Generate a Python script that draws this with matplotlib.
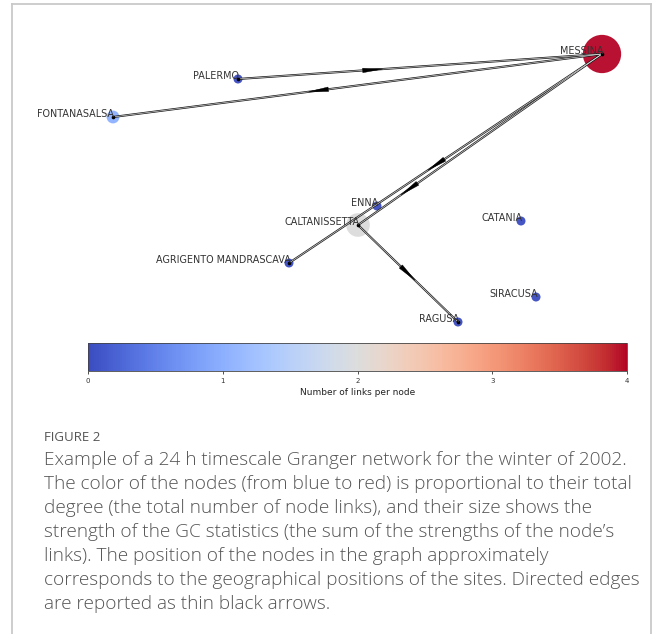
import numpy as np
import matplotlib
matplotlib.use("Agg")
import matplotlib.pyplot as plt
from matplotlib.patches import Polygon
from matplotlib.lines import Line2D
import matplotlib.colors as mcolors
import matplotlib.cm as cm

# ---------------- data ----------------
node_names = ["MESSINA", "PALERMO", "FONTANASALSA", "ENNA", "CALTANISSETTA",
              "CATANIA", "AGRIGENTO MANDRASCAVA", "SIRACUSA", "RAGUSA"]
node_x = [602, 238, 113, 377, 358, 521, 289, 536, 458]
node_y = [54, 79, 117, 206, 225, 221, 263, 297, 322]
node_degree = [4, 0, 1, 0, 2, 0, 0, 0, 0]
node_strength = [760, 42, 85, 42, 290, 42, 42, 42, 42]

edge_source = ["PALERMO", "MESSINA", "MESSINA", "MESSINA", "CALTANISSETTA"]
edge_target = ["MESSINA", "FONTANASALSA", "CALTANISSETTA", "AGRIGENTO MANDRASCAVA", "RAGUSA"]
edge_arrow_frac = [0.37, 0.58, 0.79, 0.53, 0.50]

cbar_ticks = [0, 1, 2, 3, 4]
cbar_label = "Number of links per node"

caption_title = "FIGURE 2"
caption_lines = [
    "Example of a 24 h timescale Granger network for the winter of 2002.",
    "The color of the nodes (from blue to red) is proportional to their total",
    "degree (the total number of node links), and their size shows the",
    "strength of the GC statistics (the sum of the strengths of the node\u2019s",
    "links). The position of the nodes in the graph approximately",
    "corresponds to the geographical positions of the sites. Directed edges",
    "are reported as thin black arrows.",
]

# ---------------- figure ----------------
W, H = 654, 634
DPI = 100
fig = plt.figure(figsize=(W / DPI, H / DPI), dpi=DPI)
fig.patch.set_facecolor("white")

def fx(px):
    return px / W

def fy(py):
    return 1 - py / H

# frame around the figure panel
frame_col = "#c9c9c9"
fig.add_artist(Line2D([fx(12), fx(12)], [fy(4), 0], color=frame_col, lw=1.3))
fig.add_artist(Line2D([fx(12), fx(651)], [fy(4), fy(4)], color=frame_col, lw=1.3))
fig.add_artist(Line2D([fx(651), fx(651)], [fy(4), 0], color=frame_col, lw=1.3))

# network axes (data units chosen to match layout of the picture)
x0, x1, y0, y1 = 14, 649, 6, 338
ax = fig.add_axes([fx(x0), fy(y1), (x1 - x0) / W, (y1 - y0) / H])
ax.set_xlim(x0, x1)
ax.set_ylim(y1, y0)
ax.axis("off")

cmap = plt.get_cmap("coolwarm")
norm = mcolors.Normalize(vmin=0, vmax=4)

pos = {n: (x, y) for n, x, y in zip(node_names, node_x, node_y)}

# nodes
ax.scatter(node_x, node_y, s=node_strength, c=node_degree, cmap=cmap, norm=norm,
           edgecolors="none", zorder=2, alpha=0.95)

# edges
for s, t, f in zip(edge_source, edge_target, edge_arrow_frac):
    (sx, sy), (tx, ty) = pos[s], pos[t]
    ax.plot([sx, tx], [sy, ty], color="#1a1a1a", lw=1.5, zorder=3,
            solid_capstyle="butt")
    ax.plot([sx, tx], [sy, ty], color="#e8e8e8", lw=0.45, zorder=3.1,
            solid_capstyle="butt")
    d = np.array([tx - sx, ty - sy], dtype=float)
    u = d / np.linalg.norm(d)
    nvec = np.array([-u[1], u[0]])
    c = np.array([sx, sy]) + f * d
    L, Wd = 20.0, 4.5
    tip = c + u * L / 2
    base = c - u * L / 2
    tri = [tip, base + nvec * Wd / 2, base - nvec * Wd / 2]
    ax.add_patch(Polygon(tri, closed=True, facecolor="black", edgecolor="black",
                         lw=0.3, zorder=4))

# small black dots at node centres of connected nodes (arrow endpoints)
for n in set(edge_source) | set(edge_target):
    ax.plot(*pos[n], marker="o", ms=1.6, color="black", zorder=4.5)

# labels
for n, x, y in zip(node_names, node_x, node_y):
    ax.annotate(n, (x, y), xytext=(1.5, 3), textcoords="offset pixels",
                ha="right", va="center", fontsize=6.9, color="#333333",
                family="DejaVu Sans", zorder=5)

# colorbar
cax = fig.add_axes([fx(88), fy(371), (627 - 88) / W, (371 - 343) / H])
sm = cm.ScalarMappable(norm=norm, cmap=cmap)
cb = fig.colorbar(sm, cax=cax, orientation="horizontal", ticks=cbar_ticks)
cb.outline.set_linewidth(0.6)
cb.outline.set_edgecolor("#444444")
cax.tick_params(labelsize=5, length=2.5, width=0.6, pad=2.5, colors="#333333")
cb.set_label(cbar_label, fontsize=6.5, color="#222222", labelpad=3)

# caption
cap_col = "#555555"
fig.text(fx(44), fy(441), caption_title, fontsize=9.5, color=cap_col,
         family="Open Sans", va="baseline", ha="left")
for i, line in enumerate(caption_lines):
    fig.text(fx(44), fy(465 + 24 * i), line, fontsize=13.7, color=cap_col,
             family="Open Sans", fontweight="light", va="baseline", ha="left")

fig.savefig("out.png", dpi=DPI, facecolor="white")
